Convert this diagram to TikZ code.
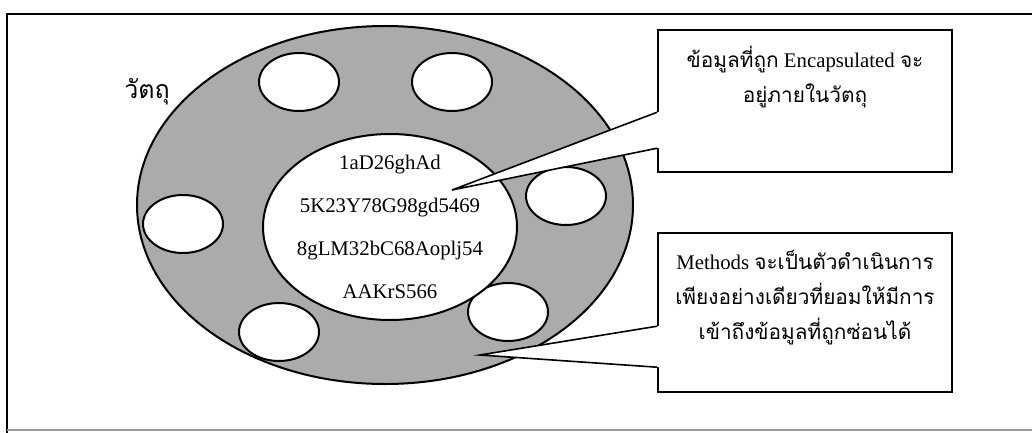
\documentclass[tikz,border=0pt]{standalone}
\usepackage{fontspec}
\setmainfont{Liberation Serif}
\newfontfamily\thaifont[Script=Thai]{Loma}
\newcommand{\thaitxt}[1]{{\thaifont #1}}
\usetikzlibrary{calc, positioning, shapes.geometric}
\definecolor{ringgray}{HTML}{ABABAB}
\definecolor{framegray}{HTML}{9A9A9A}

\begin{document}
\begin{tikzpicture}[
        x=0.5pt, y=-0.5pt,
        font=\fontsize{10.4}{17.5}\selectfont,
        ring/.style={
            draw,
            fill=ringgray,
            ellipse,
            line width=1pt,
            inner sep=0pt,
            minimum width=248pt,
            minimum height=179pt
        },
        core/.style={
            draw,
            fill=white,
            ellipse,
            line width=1pt,
            inner sep=0pt,
            minimum width=127pt,
            minimum height=93pt
        },
        hole/.style={
            draw,
            fill=white,
            ellipse,
            line width=1pt,
            inner sep=0pt,
            minimum width=40pt,
            minimum height=29pt
        },
        note/.style={
            draw,
            fill=white,
            line width=0.8pt,
            inner sep=0pt,
            minimum width=147pt
        },
        notetext/.style={align=center, inner sep=0pt},
        pointer/.style={line width=0.8pt, line join=miter}
    ]
        \useasboundingbox (0,0) rectangle (1032,433);

        % page frame, cut off on the right
        \draw[line width=1pt] (1040,14) -- (7,14) -- (7,440);
        \draw[line width=0.6pt, draw=framegray] (7,430) -- (1040,430);

        % the object with its methods
        \node[ring] (object) at (385,205) {};
        \node[hole] (m1) at (299,82) {};
        \node[hole] (m2) at (452,82) {};
        \node[hole] (m3) at (183,224) {};
        \node[hole] (m4) at (566,196) {};
        \node[hole] (m5) at (279,332) {};
        \node[hole] (m6) at (508,312) {};
        \node[core] (data) at (390,227) {};
        \node[align=center, font=\fontsize{10.4}{21.5}\selectfont] (datavals) at (data)
            {1aD26ghAd\\5K23Y78G98gd5469\\8gLM32bC68Aoplj54\\AAKrS566};

        \node[font=\fontsize{12.5}{14}\selectfont] (objlabel) at (147,92) {\thaitxt{วัตถุ}};

        % callout boxes
        \node[note, minimum height=71pt] (databox) at (805,101) {};
        \node[notetext, below=8.5pt of databox.north] (datanote)
            {\thaitxt{ข้อมูลที่ถูก} Encapsulated \thaitxt{จะ}\\\thaitxt{อยู่ภายในวัตถุ}};

        \node[note, minimum height=79.5pt] (methodbox) at (805,312.5) {};
        \node[notetext, below=9pt of methodbox.north] (methodnote)
            {Methods \thaitxt{จะเป็นตัวดำเนินการ}\\\thaitxt{เพียงอย่างเดียวที่ยอมให้มีการ}\\\thaitxt{เข้าถึงข้อมูลที่ถูกซ่อนได้}};

        % pointers from the boxes
        \coordinate (datatip) at (452,190);
        \coordinate (d1) at ($(databox.north west)+(0,83)$);
        \coordinate (d2) at ($(databox.north west)+(0,119)$);
        \fill[white] (d1) -- (datatip) -- (d2) -- ([xshift=1pt]d2) -- ([xshift=1pt]d1) -- cycle;
        \draw[pointer] (d1) -- (datatip) -- (d2);

        \coordinate (methodtip) at (480,355);
        \coordinate (e1) at ($(methodbox.north west)+(0,94)$);
        \coordinate (e2) at ($(methodbox.north west)+(0,135)$);
        \fill[white] (e1) -- (methodtip) -- (e2) -- ([xshift=1pt]e2) -- ([xshift=1pt]e1) -- cycle;
        \draw[pointer] (e1) -- (methodtip) -- (e2);
    \end{tikzpicture}
\end{document}
